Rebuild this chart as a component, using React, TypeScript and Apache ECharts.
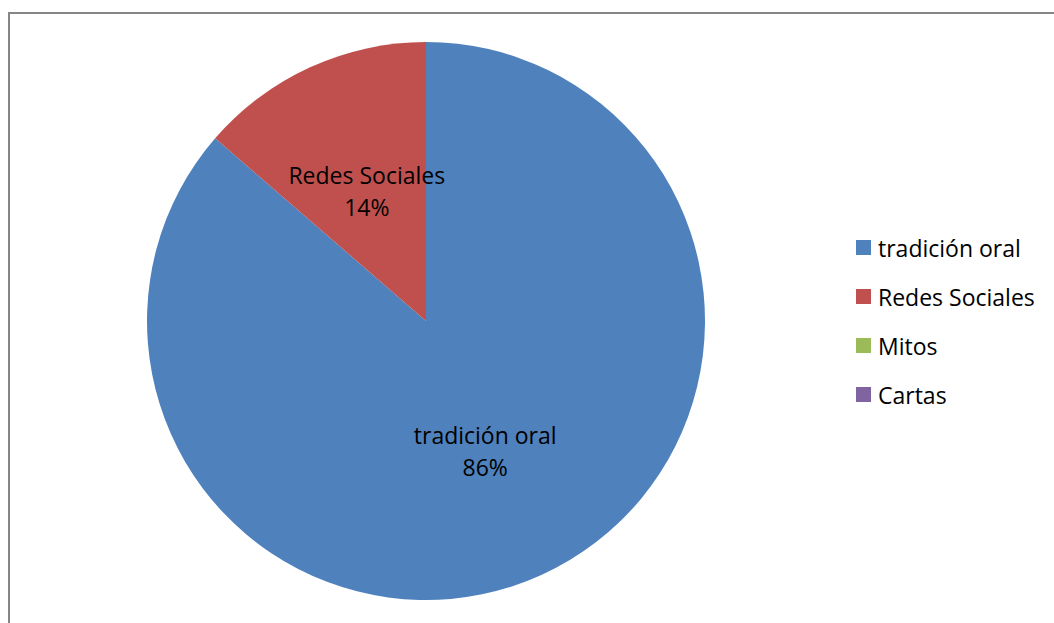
import React, { useEffect, useRef } from "react";
import * as echarts from "echarts";

const categories = ["tradición oral", "Redes Sociales", "Mitos", "Cartas"];
const values = [19, 3, 0, 0];
const colors = ["#4F81BD", "#C0504D", "#9BBB59", "#8064A2"];

export default function App() {
  const ref = useRef<HTMLDivElement>(null);
  useEffect(() => {
    const chart = echarts.init(ref.current!, null, { renderer: "svg" });
    const font = "'Open Sans', 'Liberation Sans', sans-serif";
    chart.setOption({
      animation: false,
      color: colors,
      graphic: [
        {
          type: "rect",
          shape: { x: 9, y: 13, width: 1200, height: 800 },
          style: { fill: "none", stroke: "#868686", lineWidth: 2 },
          silent: true,
        },
      ],
      legend: {
        orient: "vertical",
        left: 856,
        top: 236,
        padding: 0,
        icon: "rect",
        itemWidth: 15,
        itemHeight: 15,
        itemGap: 26,
        data: categories,
        textStyle: { fontFamily: font, fontSize: 23, color: "#000", padding: [0, 0, 0, 2] },
      },
      series: [
        {
          type: "pie",
          center: [426, 321],
          radius: [0, 279],
          startAngle: 90,
          clockwise: true,
          avoidLabelOverlap: false,
          label: {
            show: true,
            position: "inside",
            fontFamily: font,
            fontSize: 23,
            color: "#000",
            lineHeight: 32,
            padding: [10, 0, 0, 0],
            formatter: (p: any) => `${p.name}\n${Math.round(p.percent)}%`,
          },
          labelLine: { show: false },
          emphasis: { disabled: true },
          data: categories.map((name, i) => ({
            name,
            value: values[i],
            label: { show: values[i] > 0 },
          })),
        },
      ],
    });
    return () => chart.dispose();
  }, []);
  return (
    <div
      ref={ref}
      style={{ position: "absolute", left: 0, top: 0, width: 1054, height: 623 }}
    />
  );
}
